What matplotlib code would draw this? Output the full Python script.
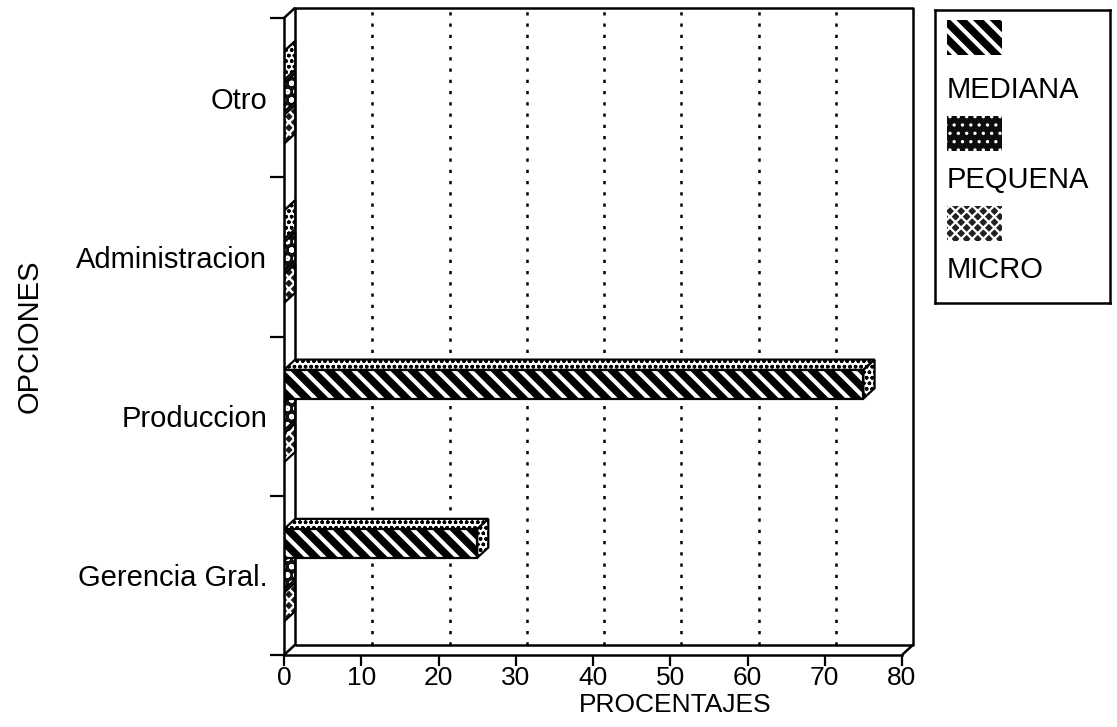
import matplotlib
matplotlib.use("Agg")
import matplotlib.pyplot as plt
from matplotlib.patches import Polygon
import numpy as np

# ---- data -------------------------------------------------------------
categories = ["Gerencia Gral.", "Produccion", "Administracion", "Otro"]
series = ["MEDIANA", "PEQUENA", "MICRO"]
mediana = [25, 75, 0, 0]
pequena = [0, 0, 0, 0]
micro = [0, 0, 0, 0]
x_ticks = [0, 10, 20, 30, 40, 50, 60, 70, 80]
x_label = "PROCENTAJES"
y_label = "OPCIONES"

values = {"MEDIANA": mediana, "PEQUENA": pequena, "MICRO": micro}

plt.rcParams["font.family"] = ["Liberation Sans", "DejaVu Sans"]
plt.rcParams["font.size"] = 21
plt.rcParams["hatch.linewidth"] = 3.0

W, H = 1117, 727
fig = plt.figure(figsize=(W / 100, H / 100), dpi=100)
ax = fig.add_axes([284 / W, (H - 655) / H, 618 / W, 637 / H])
ax.set_xlim(x_ticks[0], x_ticks[-1])
ax.set_ylim(-0.5, len(categories) - 0.5)

DX, DY = 1.45, 0.065          # depth of the pseudo-3D box, data units
BAR_H = 0.18
OFFSETS = {"MEDIANA": 0.2, "PEQUENA": 0.0, "MICRO": -0.2}

# (face colour, hatch colour, hatch, hatch linewidth)
FRONT = {
    "MEDIANA": ("black", "white", "\\\\", 3.0),
    "PEQUENA": ("#0d0d0d", "white", "..", 1.2),
    "MICRO": ("#222222", "white", "xxx", 1.6),
}
SIDE = {
    "MEDIANA": ("white", "black", "ooo", 1.0),
    "PEQUENA": ("#111111", "white", "oo", 1.5),
    "MICRO": ("#1a1a1a", "white", "xxx", 1.8),
}


def set_hlw(p, lw):
    if hasattr(p, "set_hatch_linewidth"):
        p.set_hatch_linewidth(lw)


def textured_poly(target, xy, style, z):
    face, hcol, hatch, hlw = style
    p = Polygon(xy, closed=True, facecolor=face, edgecolor=hcol, hatch=hatch,
                linewidth=0, zorder=z)
    set_hlw(p, hlw)
    target.add_patch(p)
    o = Polygon(xy, closed=True, fill=False, edgecolor="black",
                linewidth=1.6, zorder=z + 0.01)
    target.add_patch(o)
    return p


# ---- back wall, floor edges and dotted grid ---------------------------
y0, y1 = -0.5, len(categories) - 0.5
xmax = x_ticks[-1]
line_kw = dict(color="black", lw=1.8, clip_on=False, solid_capstyle="butt")
ax.plot([DX, xmax + DX, xmax + DX, DX, DX],
        [y0 + DY, y0 + DY, y1 + DY, y1 + DY, y0 + DY], zorder=2, **line_kw)
ax.plot([0, DX], [y1, y1 + DY], zorder=2, **line_kw)
ax.plot([0, DX], [y0, y0 + DY], zorder=2, **line_kw)
ax.plot([xmax, xmax + DX], [y0, y0 + DY], zorder=2, **line_kw)
for t in x_ticks[1:-1]:
    ax.plot([t + DX, t + DX], [y0 + DY, y1 + DY], color="black", lw=1.8,
            ls=(0, (1.3, 3.2)), clip_on=False, zorder=1)

# ---- bars ---------------------------------------------------------------
z = 5
for i, cat in enumerate(categories):
    for name in sorted(series, key=lambda s: OFFSETS[s]):
        v = values[name][i]
        yc = i + OFFSETS[name]
        yb, yt = yc - BAR_H / 2, yc + BAR_H / 2
        # top face
        textured_poly(ax, [(0, yt), (v, yt), (v + DX, yt + DY), (DX, yt + DY)],
                      SIDE["MEDIANA"], z)
        # end face
        textured_poly(ax, [(v, yb), (v, yt), (v + DX, yt + DY), (v + DX, yb + DY)],
                      SIDE[name], z + 0.1)
        # front face
        face, hcol, hatch, hlw = FRONT[name]
        bars = ax.barh([yc], [v], height=BAR_H, left=0, color=face,
                       edgecolor=hcol, hatch=hatch, linewidth=0, zorder=z + 0.2)
        for b in bars:
            set_hlw(b, hlw)
        ax.barh([yc], [v], height=BAR_H, left=0, fill=False,
                edgecolor="black", linewidth=1.6, zorder=z + 0.3)
        z += 1

# ---- axes, ticks, labels ----------------------------------------------
for s in ("top", "right"):
    ax.spines[s].set_visible(False)
for s in ("left", "bottom"):
    ax.spines[s].set_linewidth(1.8)
    ax.spines[s].set_zorder(50)

ax.set_xticks(x_ticks)
ax.set_xticklabels([str(t) for t in x_ticks], fontsize=19)
ax.tick_params(axis="x", length=8, width=1.6, pad=0, direction="out")
ax.set_yticks(range(len(categories)))
ax.set_yticklabels(categories)
ax.set_yticks(np.arange(len(categories) + 1) - 0.5, minor=True)
ax.tick_params(axis="y", which="major", length=0, pad=12)
ax.tick_params(axis="y", which="minor", length=10, width=1.6, direction="out")

ax.set_xlabel(x_label, va="center", fontsize=19)
ax.xaxis.set_label_coords((675 - 284) / 618, (655 - 705) / 637)
ax.set_ylabel(y_label, va="center")
ax.yaxis.set_label_coords((30 - 284) / 618, 0.5)

# ---- legend box -------------------------------------------------------
LX0, LY0, LX1, LY1 = 935, 10, 1110, 303
lax = fig.add_axes([LX0 / W, (H - LY1) / H, (LX1 - LX0) / W, (LY1 - LY0) / H])
lax.set_xlim(0, LX1 - LX0)
lax.set_ylim(LY1 - LY0, 0)
lax.set_xticks([])
lax.set_yticks([])
for s in lax.spines.values():
    s.set_linewidth(1.8)

sw_top = [10, 106, 196]
txt_y = [80, 170, 260]
for name, st, ty in zip(series, sw_top, txt_y):
    xy = [(12, st), (67, st), (67, st + 35), (12, st + 35)]
    face, hcol, hatch, hlw = FRONT[name]
    p = Polygon(xy, closed=True, facecolor=face, edgecolor=hcol, hatch=hatch,
                linewidth=0)
    set_hlw(p, hlw)
    lax.add_patch(p)
    lax.text(12, ty, name, ha="left", va="center", fontsize=21)

fig.savefig("out.png", dpi=100)
